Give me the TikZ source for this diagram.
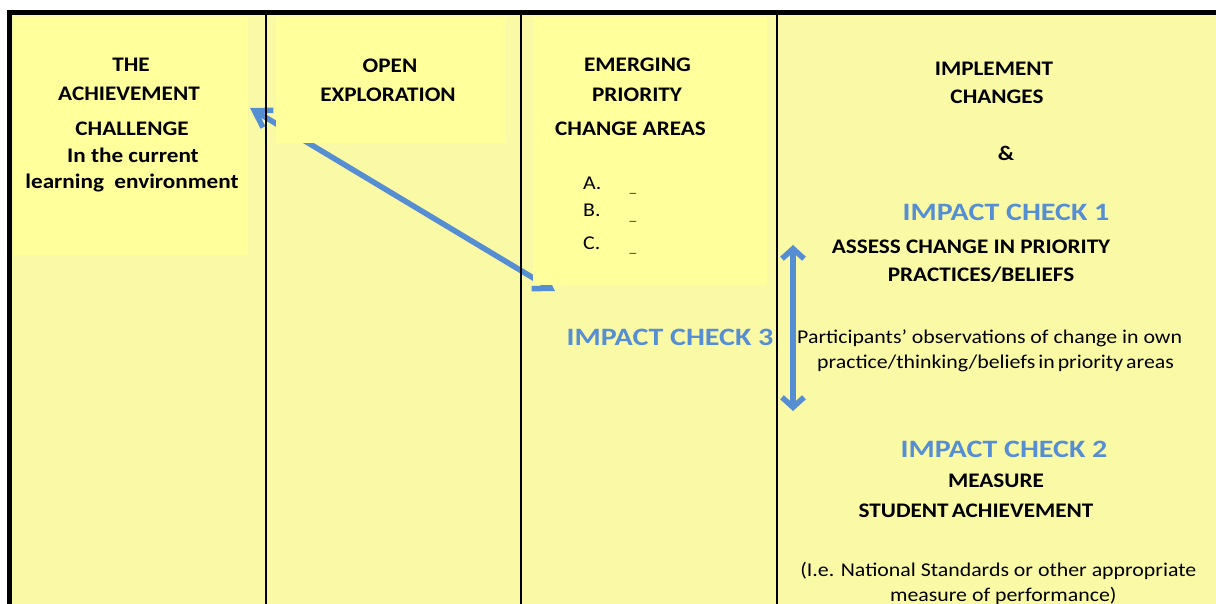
\documentclass[tikz,border=0pt]{standalone}
\usepackage{fontspec}
\setmainfont{Carlito}[FakeStretch=1.12]
\newfontfamily\checkfont{Carlito}[FakeStretch=1.2]
\usetikzlibrary{arrows.meta}

\definecolor{pagebg}{RGB}{250,250,166}
\definecolor{panel}{RGB}{255,255,156}
\definecolor{impactblue}{RGB}{86,142,212}

\begin{document}
\begin{tikzpicture}[x=1pt,y=-1pt,
  hd/.style={font=\fontsize{20.7}{22}\selectfont\bfseries, inner sep=0, anchor=base},
  bd/.style={font=\fontsize{19.5}{22}\selectfont, inner sep=0, anchor=base},
  ic/.style={font=\checkfont\fontsize{25}{27}\selectfont\bfseries, text=impactblue, inner sep=0, anchor=base},
  blank/.style={font=\fontsize{12}{14}\selectfont, inner sep=0, anchor=base},
  panelbox/.style={fill=panel, draw=none},
  divider/.style={draw=black, line width=1.5pt},
  frame/.style={draw=black, line width=5pt},
  link/.style={draw=impactblue, line width=5.5pt,
    {Straight Barb[length=10pt,width=22pt]}-{Straight Barb[length=10pt,width=22pt]}},
  slantlink/.style={draw=impactblue, line width=5.5pt,
    {Straight Barb[length=16pt,width=20pt]}-{Straight Barb[length=16pt,width=20pt]}}
]
\useasboundingbox (0,0) rectangle (1216,604);

% page background and outer frame
\fill[white] (0,0) rectangle (1216,604);
\fill[pagebg] (10,12) rectangle (1216,604);

% link between priority areas and the achievement challenge
\coordinate (chalEnd) at (250,108);
\coordinate (prioEnd) at (555,291);
\draw[slantlink] (prioEnd) -- (chalEnd);

% column panels
\path[panelbox] (14,17) rectangle (248,255);
\path[panelbox] (276,17) rectangle (505,143);
\path[panelbox] (533,17) rectangle (767,285);

% column dividers and frame
\draw[divider] (266,12) -- (266,604);
\draw[divider] (521,12) -- (521,604);
\draw[divider] (777,12) -- (777,604);
\draw[frame] (7,12.5) -- (1216,12.5);
\draw[frame] (9.5,10) -- (9.5,604);

% column 1
\node[hd] (c1a) at (131,71.7) {THE};
\node[hd] (c1b) at (129,100.7) {ACHIEVEMENT};
\node[hd] (c1c) at (132,136) {CHALLENGE};
\node[hd] (c1d) at (133,162.7) {In the current};
\node[hd] (c1e) at (132,188.3) {learning\hspace{0.25em} environment};

% column 2
\node[hd] (c2a) at (390,72.7) {OPEN};
\node[hd] (c2b) at (388,102) {EXPLORATION};

% column 3
\node[hd] (c3a) at (637.5,72) {EMERGING};
\node[hd] (c3b) at (637,101.7) {PRIORITY};
\node[hd] (c3c) at (630.5,136) {CHANGE AREAS};
\node[bd, anchor=base west] (itemA) at (583,189.3) {A.};
\node[bd, anchor=base west] (itemB) at (583,216.7) {B.};
\node[bd, anchor=base west] (itemC) at (583,249.3) {C.};
\node[blank] (blankA) at (633,192.3) {\_};
\node[blank] (blankB) at (633,220.7) {\_};
\node[blank] (blankC) at (633,252.7) {\_};
\node[ic] (check3) at (670,345) {IMPACT CHECK 3};

% column 4
\node[hd] (c4a) at (994,76) {IMPLEMENT};
\node[hd] (c4b) at (997,103.3) {CHANGES};
\node[hd] (c4amp) at (1006,161) {\&};
\node[ic] (check1) at (1006,220.7) {IMPACT CHECK 1};
\node[hd] (assess1) at (971,254) {ASSESS CHANGE IN PRIORITY};
\node[hd] (assess2) at (981,281.7) {PRACTICES/BELIEFS};
\node[bd, anchor=base west] (obs1) at (797,343.3) {Participants’ observations of change in own};
\node[bd, anchor=base west] (obs2) at (817,368.3) {practice/thinking/beliefs\hspace{-0.1em} in\hspace{-0.1em} priority\hspace{-0.1em} areas};
\node[ic] (check2) at (1004,457.3) {IMPACT CHECK 2};
\node[hd] (meas1) at (996,487.7) {MEASURE};
\node[hd] (meas2) at (976,517.7) {STUDENT\hspace{-0.1em} ACHIEVEMENT};
\node[bd] (note1) at (998.3,576.7) {(I.e. National Standards or other appropriate};
\node[bd] (note2) at (1003.3,601) {measure of performance)};

% impact check 1 <-> 2 link
\coordinate (upEnd) at (793,245);
\coordinate (downEnd) at (793,411);
\draw[link] (upEnd) -- (downEnd);
\end{tikzpicture}
\end{document}
